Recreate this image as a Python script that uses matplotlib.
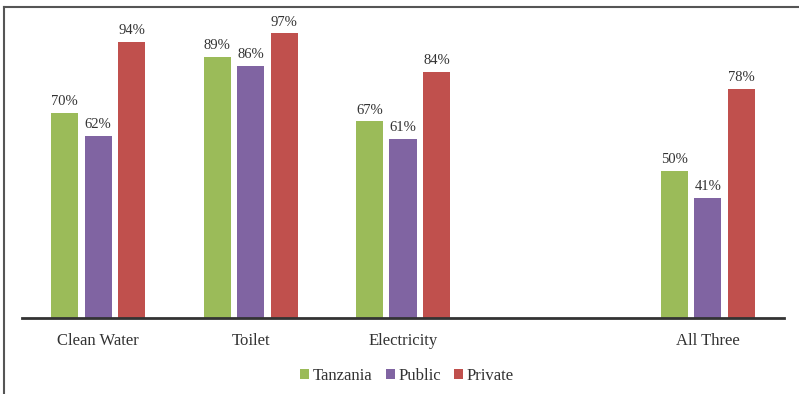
import numpy as np
import matplotlib.pyplot as plt
from matplotlib.lines import Line2D

plt.rcParams['font.family'] = ['Liberation Serif', 'DejaVu Serif']

CATEGORIES = ['Clean Water', 'Toilet', 'Electricity', '', 'All Three']
TANZANIA = [70, 89, 67, np.nan, 50]
PUBLIC = [62, 86, 61, np.nan, 41]
PRIVATE = [94, 97, 84, np.nan, 78]

SERIES = [
    ('Tanzania', TANZANIA, '#9BBB59'),
    ('Public', PUBLIC, '#8064A2'),
    ('Private', PRIVATE, '#C0504D'),
]

TEXT_COLOR = '#333333'

fig = plt.figure(figsize=(7.99, 3.94), dpi=100)
ax = fig.add_axes([22 / 799, 1 - 318 / 394, 762 / 799, 311 / 394])

x = np.arange(len(CATEGORIES))
step = 0.22
width = 0.178

for i, (name, values, color) in enumerate(SERIES):
    pos = x + (i - 1) * step
    vals = np.array(values, dtype=float)
    ax.bar(pos, vals, width=width, color=color, label=name, zorder=2)
    for xp, v in zip(pos, vals):
        if np.isnan(v):
            continue
        ax.annotate(f'{v:.0f}%', (xp, v), xytext=(0, 3.5), textcoords='offset points',
                    ha='center', va='bottom', fontsize=10.5, color=TEXT_COLOR)

ax.set_xlim(-0.5, len(CATEGORIES) - 0.5)
ax.set_ylim(0, 106)
ax.set_xticks(x)
ax.set_xticklabels(CATEGORIES, fontsize=12, color=TEXT_COLOR)
ax.tick_params(axis='x', length=0, pad=11)
ax.set_yticks([])
for side in ['top', 'right', 'left']:
    ax.spines[side].set_visible(False)
ax.spines['bottom'].set_color('#333333')
ax.spines['bottom'].set_linewidth(2)
ax.spines['bottom'].set_zorder(3)

leg = fig.legend(loc='center', bbox_to_anchor=(407 / 799, 1 - 376 / 394), ncol=3,
                 frameon=False, fontsize=12, handlelength=0.55, handleheight=0.55,
                 handletextpad=0.2, columnspacing=0.8)
for t in leg.get_texts():
    t.set_color(TEXT_COLOR)

# outer frame (top and left edges only)
fig.add_artist(Line2D([3.5 / 799, 1], [1 - 6.5 / 394, 1 - 6.5 / 394],
                      transform=fig.transFigure, color='#555555', linewidth=1.5))
fig.add_artist(Line2D([3.5 / 799, 3.5 / 799], [0, 1 - 6.5 / 394],
                      transform=fig.transFigure, color='#555555', linewidth=1.5))

fig.savefig('out.png', dpi=100)
